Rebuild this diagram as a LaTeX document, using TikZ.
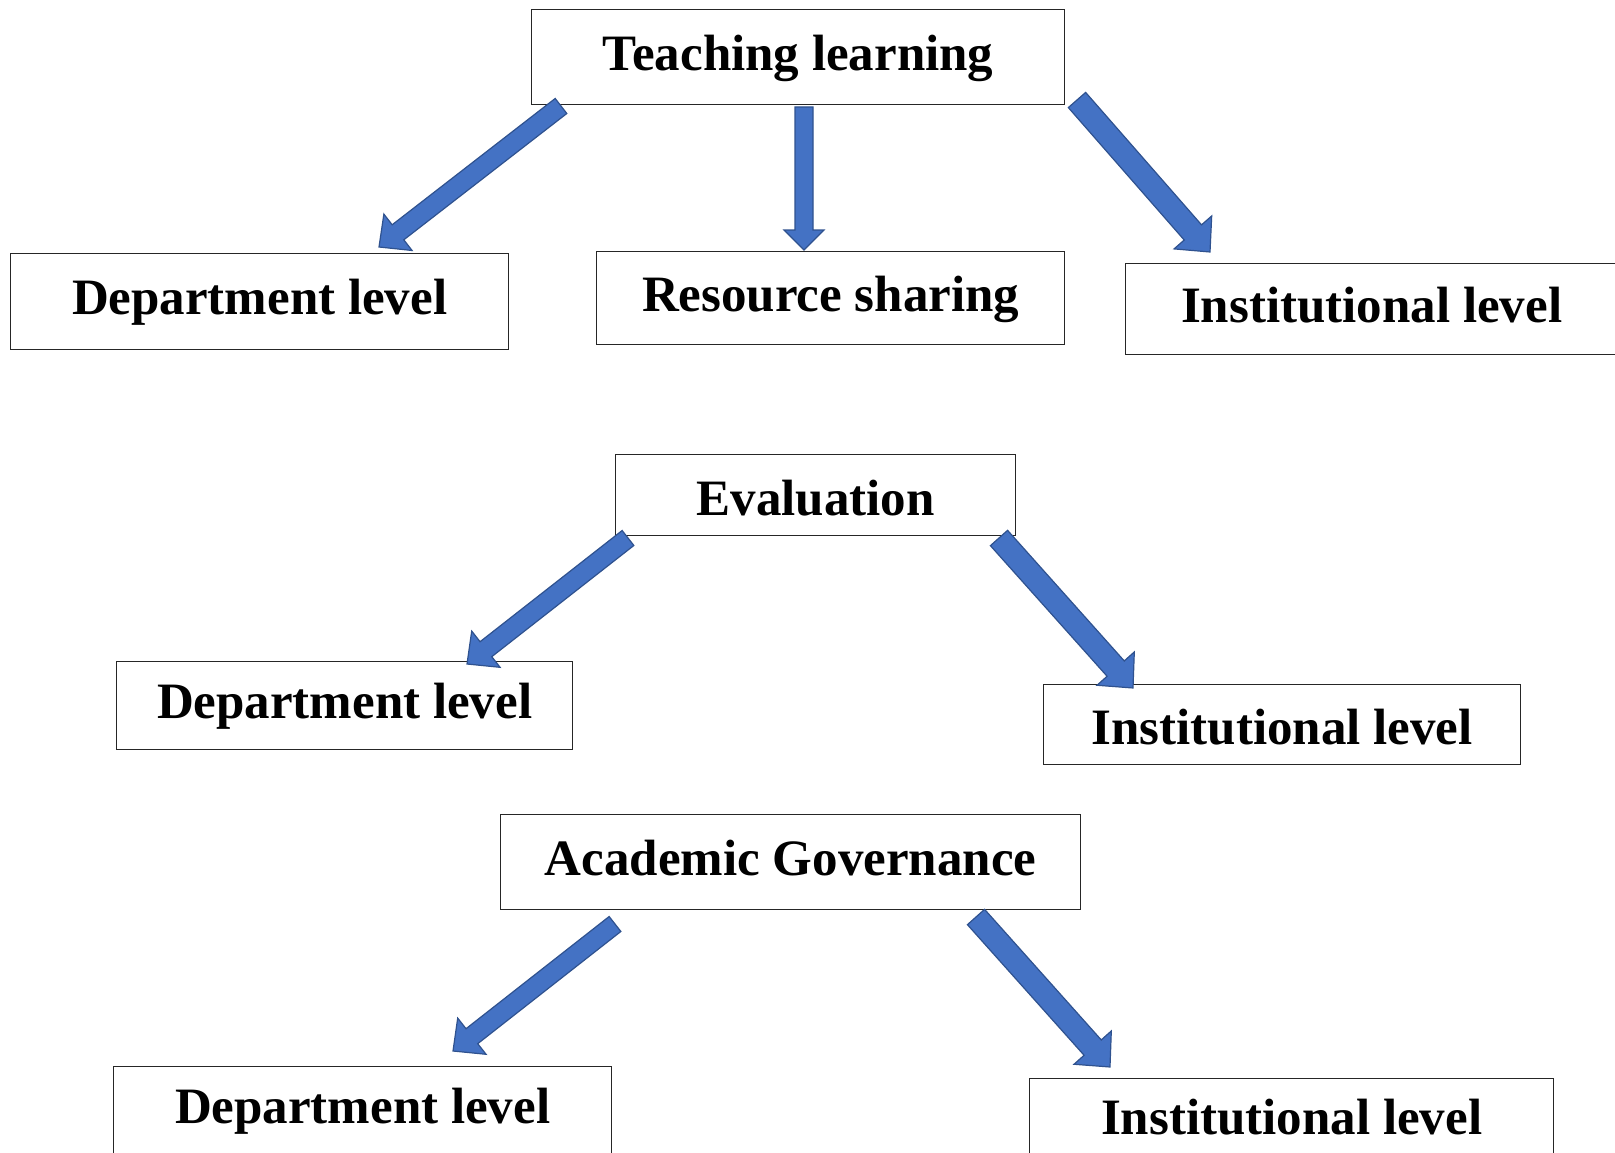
\documentclass[tikz,border=0pt]{standalone}
\usepackage{fontspec}
\setmainfont{Liberation Serif}
\usetikzlibrary{calc}

\definecolor{arrowfill}{HTML}{4472C4}
\definecolor{arrowline}{HTML}{2F528F}

\tikzset{
  levelbox/.style={draw=black!85, line width=1.3pt, anchor=north west, inner sep=0pt,
    text height=34pt, text depth=8pt,
    font=\fontsize{51}{56}\selectfont\bfseries},
  lowtext/.style={text height=40pt, text depth=0pt},
  arrowshape/.style={fill=arrowfill, draw=arrowline, line width=1.2pt, line join=miter}
}

% from, to, shaft half width, head half width, head length
\newcommand{\blockarrow}[5]{%
  \path[arrowshape] let \p1=($(#2)-(#1)$), \n1={atan2(\y1,\x1)}, \n2={veclen(\x1,\y1)} in
    [shift={(#1)}, rotate=\n1] (0,-#3) -- (\n2-#5,-#3) -- (\n2-#5,-#4) -- (\n2,0)
    -- (\n2-#5,#4) -- (\n2-#5,#3) -- (0,#3) -- cycle;}

\begin{document}
\begin{tikzpicture}[x=1pt, y=-1pt]
    \useasboundingbox (0,0) rectangle (1615,1153);

    % first row
    \node[levelbox, minimum width=533pt, minimum height=95pt] (teach) at (531,9) {Teaching learning};
    \node[levelbox, minimum width=498pt, minimum height=96pt] (dept1) at (10,253) {Department level};
    \node[levelbox, minimum width=468pt, minimum height=93pt] (share) at (596,251) {Resource sharing};
    \node[levelbox, minimum width=492pt, minimum height=91pt] (inst1) at (1125,263) {Institutional level};

    % second row
    \node[levelbox, lowtext, minimum width=400pt, minimum height=81pt] (eval) at (615,454) {Evaluation};
    \node[levelbox, minimum width=456pt, minimum height=88pt] (dept2) at (116,661) {Department level};
    \node[levelbox, lowtext, minimum width=477pt, minimum height=80pt] (inst2) at (1043,684) {Institutional level};

    % third row
    \node[levelbox, minimum width=580pt, minimum height=95pt] (gov) at (500,814) {Academic Governance};
    \node[levelbox, minimum width=498pt, minimum height=88pt] (dept3) at (113,1066) {Department level};
    \node[levelbox, minimum width=524pt, minimum height=86pt] (inst3) at (1029,1078) {Institutional level};

    % arrow ends
    \coordinate (teach-l) at (561,106);
    \coordinate (dept1-t) at (379,247);
    \coordinate (teach-m) at (804,107);
    \coordinate (share-t) at (804,250);
    \coordinate (teach-r) at (1077,100);
    \coordinate (inst1-t) at (1210,252);
    \coordinate (eval-l) at (628,538);
    \coordinate (dept2-t) at (467,664);
    \coordinate (eval-r) at (999,538);
    \coordinate (inst2-t) at (1133,688);
    \coordinate (gov-l) at (615,924);
    \coordinate (dept3-t) at (453,1051);
    \coordinate (gov-r) at (976,917);
    \coordinate (inst3-t) at (1110,1067);

    \blockarrow{teach-l}{dept1-t}{9.5}{23}{24}
    \blockarrow{teach-m}{share-t}{9}{20}{20}
    \blockarrow{teach-r}{inst1-t}{11.5}{25}{26}
    \blockarrow{eval-l}{dept2-t}{9.5}{23}{24}
    \blockarrow{eval-r}{inst2-t}{11.5}{25}{26}
    \blockarrow{gov-l}{dept3-t}{9.5}{23}{24}
    \blockarrow{gov-r}{inst3-t}{11.5}{25}{26}
\end{tikzpicture}
\end{document}
